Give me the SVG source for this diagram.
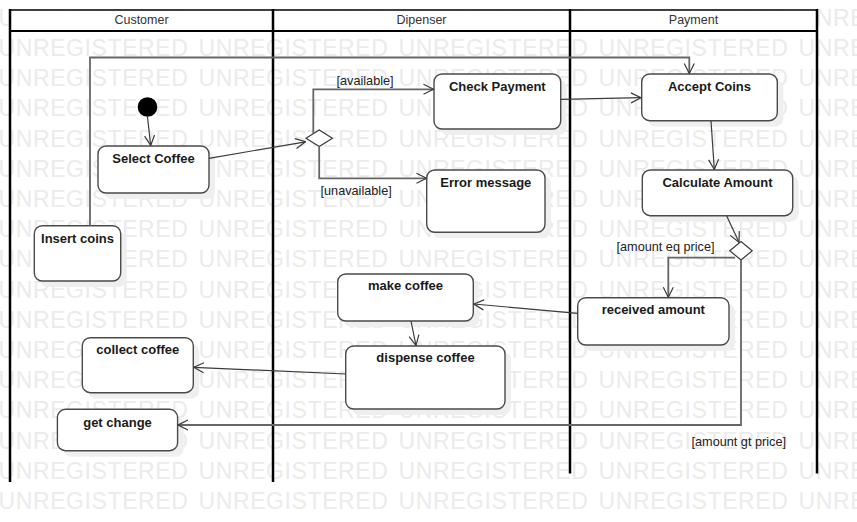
<svg xmlns="http://www.w3.org/2000/svg" width="857" height="522" viewBox="0 0 857 522">
<style>
.wm{font-family:"Liberation Sans",Arial,sans-serif;font-size:23px;letter-spacing:0.6px;fill:#ebebeb}
.hdr{font-family:"Liberation Sans",Arial,sans-serif;font-size:12.5px;fill:#333;text-anchor:middle}
.node rect.box{fill:#fff;stroke:#4a4a4a;stroke-width:1.4}
.node rect.sh{fill:#efefef;stroke:none}
.node text{font-family:"Liberation Sans",Arial,sans-serif;font-size:13px;font-weight:bold;fill:#1a1a1a;text-anchor:middle}
.lbl{font-family:"Liberation Sans",Arial,sans-serif;font-size:12.7px;fill:#222}
.c{fill:none;stroke:#3a3a3a;stroke-width:1.2;marker-end:url(#arr)}
.c2{fill:none;stroke:#666;stroke-width:1.8;marker-end:url(#arr)}
.lane{stroke:#000;stroke-width:2.5}
</style>
<defs>
<marker id="arr" markerUnits="userSpaceOnUse" markerWidth="12" markerHeight="12" viewBox="0 0 12 12" refX="11" refY="6" orient="auto">
<path d="M1,1 L11,6 L1,11" fill="none" stroke="#3a3a3a" stroke-width="1.2"/>
</marker>
</defs>
<rect width="857" height="522" fill="#fff"/>
<g id="watermark">
<text class="wm" y="25.8"><tspan x="-1.5">UNREGISTERED</tspan><tspan x="198.5">UNREGISTERED</tspan><tspan x="398.5">UNREGISTERED</tspan><tspan x="598.5">UNREGISTERED</tspan><tspan x="798.5">UNRE</tspan></text>
<text class="wm" y="56"><tspan x="-1.5">UNREGISTERED</tspan><tspan x="198.5">UNREGISTERED</tspan><tspan x="398.5">UNREGISTERED</tspan><tspan x="598.5">UNREGISTERED</tspan><tspan x="798.5">UNRE</tspan></text>
<text class="wm" y="86.2"><tspan x="-1.5">UNREGISTERED</tspan><tspan x="198.5">UNREGISTERED</tspan><tspan x="398.5">UNREGISTERED</tspan><tspan x="598.5">UNREGISTERED</tspan><tspan x="798.5">UNRE</tspan></text>
<text class="wm" y="116.4"><tspan x="-1.5">UNREGISTERED</tspan><tspan x="198.5">UNREGISTERED</tspan><tspan x="398.5">UNREGISTERED</tspan><tspan x="598.5">UNREGISTERED</tspan><tspan x="798.5">UNRE</tspan></text>
<text class="wm" y="146.6"><tspan x="-1.5">UNREGISTERED</tspan><tspan x="198.5">UNREGISTERED</tspan><tspan x="398.5">UNREGISTERED</tspan><tspan x="598.5">UNREGISTERED</tspan><tspan x="798.5">UNRE</tspan></text>
<text class="wm" y="176.8"><tspan x="-1.5">UNREGISTERED</tspan><tspan x="198.5">UNREGISTERED</tspan><tspan x="398.5">UNREGISTERED</tspan><tspan x="598.5">UNREGISTERED</tspan><tspan x="798.5">UNRE</tspan></text>
<text class="wm" y="207"><tspan x="-1.5">UNREGISTERED</tspan><tspan x="198.5">UNREGISTERED</tspan><tspan x="398.5">UNREGISTERED</tspan><tspan x="598.5">UNREGISTERED</tspan><tspan x="798.5">UNRE</tspan></text>
<text class="wm" y="237.2"><tspan x="-1.5">UNREGISTERED</tspan><tspan x="198.5">UNREGISTERED</tspan><tspan x="398.5">UNREGISTERED</tspan><tspan x="598.5">UNREGISTERED</tspan><tspan x="798.5">UNRE</tspan></text>
<text class="wm" y="267.4"><tspan x="-1.5">UNREGISTERED</tspan><tspan x="198.5">UNREGISTERED</tspan><tspan x="398.5">UNREGISTERED</tspan><tspan x="598.5">UNREGISTERED</tspan><tspan x="798.5">UNRE</tspan></text>
<text class="wm" y="297.6"><tspan x="-1.5">UNREGISTERED</tspan><tspan x="198.5">UNREGISTERED</tspan><tspan x="398.5">UNREGISTERED</tspan><tspan x="598.5">UNREGISTERED</tspan><tspan x="798.5">UNRE</tspan></text>
<text class="wm" y="327.8"><tspan x="-1.5">UNREGISTERED</tspan><tspan x="198.5">UNREGISTERED</tspan><tspan x="398.5">UNREGISTERED</tspan><tspan x="598.5">UNREGISTERED</tspan><tspan x="798.5">UNRE</tspan></text>
<text class="wm" y="358"><tspan x="-1.5">UNREGISTERED</tspan><tspan x="198.5">UNREGISTERED</tspan><tspan x="398.5">UNREGISTERED</tspan><tspan x="598.5">UNREGISTERED</tspan><tspan x="798.5">UNRE</tspan></text>
<text class="wm" y="388.2"><tspan x="-1.5">UNREGISTERED</tspan><tspan x="198.5">UNREGISTERED</tspan><tspan x="398.5">UNREGISTERED</tspan><tspan x="598.5">UNREGISTERED</tspan><tspan x="798.5">UNRE</tspan></text>
<text class="wm" y="418.4"><tspan x="-1.5">UNREGISTERED</tspan><tspan x="198.5">UNREGISTERED</tspan><tspan x="398.5">UNREGISTERED</tspan><tspan x="598.5">UNREGISTERED</tspan><tspan x="798.5">UNRE</tspan></text>
<text class="wm" y="448.6"><tspan x="-1.5">UNREGISTERED</tspan><tspan x="198.5">UNREGISTERED</tspan><tspan x="398.5">UNREGISTERED</tspan><tspan x="598.5">UNREGISTERED</tspan><tspan x="798.5">UNRE</tspan></text>
<text class="wm" y="478.8"><tspan x="-1.5">UNREGISTERED</tspan><tspan x="198.5">UNREGISTERED</tspan><tspan x="398.5">UNREGISTERED</tspan><tspan x="598.5">UNREGISTERED</tspan><tspan x="798.5">UNRE</tspan></text>
<text class="wm" y="509"><tspan x="-1.5">UNREGISTERED</tspan><tspan x="198.5">UNREGISTERED</tspan><tspan x="398.5">UNREGISTERED</tspan><tspan x="598.5">UNREGISTERED</tspan><tspan x="798.5">UNRE</tspan></text>
</g>
<g id="lanes">
<rect x="10" y="10" width="807" height="21" fill="#fff" stroke="none"/>
<line x1="10" y1="10" x2="817" y2="10" stroke="#000" stroke-width="1.5"/>
<line x1="10" y1="31" x2="817" y2="31" stroke="#000" stroke-width="1.8"/>
<line class="lane" x1="10" y1="9" x2="10" y2="482"/>
<line class="lane" x1="273" y1="9" x2="273" y2="482"/>
<line class="lane" x1="570" y1="9" x2="570" y2="473.5"/>
<line class="lane" x1="817" y1="9" x2="817" y2="473.5"/>
<text class="hdr" x="141.5" y="24">Customer</text>
<text class="hdr" x="421.5" y="24">Dipenser</text>
<text class="hdr" x="693.5" y="24">Payment</text>
</g>
<g id="initial"><circle cx="147.5" cy="107" r="9.8" fill="#000"/></g>
<g id="decision1"><polygon points="306,138.3 319.2,130 332.4,138.3 319.2,146.6" fill="#fff" stroke="#3a3a3a" stroke-width="1.2"/></g>
<g id="decision2"><polygon points="729.8,250.8 741,241.6 752.2,250.8 741,260" fill="#fff" stroke="#3a3a3a" stroke-width="1.2"/></g>
<g id="select-coffee" class="node"><rect class="sh" x="104" y="152" width="111" height="47" rx="8"/><rect class="box" x="98" y="146" width="111" height="47" rx="8"/><text x="153.5" y="162.5">Select Coffee</text></g>
<g id="insert-coins" class="node"><rect class="sh" x="40.3" y="231.7" width="86.4" height="55.3" rx="8"/><rect class="box" x="34.3" y="225.7" width="86.4" height="55.3" rx="8"/><text x="77.5" y="242.7">Insert coins</text></g>
<g id="check-payment" class="node"><rect class="sh" x="440" y="80" width="126.7" height="55" rx="8"/><rect class="box" x="434" y="74" width="126.7" height="55" rx="8"/><text x="497.3" y="90.7">Check Payment</text></g>
<g id="error-message" class="node"><rect class="sh" x="432.7" y="176" width="118.3" height="62.3" rx="8"/><rect class="box" x="426.7" y="170" width="118.3" height="62.3" rx="8"/><text x="485.8" y="186.7">Error message</text></g>
<g id="accept-coins" class="node"><rect class="sh" x="647.7" y="80" width="135.6" height="46.7" rx="8"/><rect class="box" x="641.7" y="74" width="135.6" height="46.7" rx="8"/><text x="709.5" y="90.7">Accept Coins</text></g>
<g id="calculate-amount" class="node"><rect class="sh" x="648.3" y="176" width="150.4" height="45.7" rx="8"/><rect class="box" x="642.3" y="170" width="150.4" height="45.7" rx="8"/><text x="717.5" y="186.7">Calculate Amount</text></g>
<g id="received-amount" class="node"><rect class="sh" x="583.7" y="303.7" width="151.3" height="47.3" rx="8"/><rect class="box" x="577.7" y="297.7" width="151.3" height="47.3" rx="8"/><text x="653.3" y="314.3">received amount</text></g>
<g id="make-coffee" class="node"><rect class="sh" x="343.7" y="280" width="135.6" height="47" rx="8"/><rect class="box" x="337.7" y="274" width="135.6" height="47" rx="8"/><text x="405.5" y="290">make coffee</text></g>
<g id="dispense-coffee" class="node"><rect class="sh" x="351.7" y="352" width="159.3" height="63" rx="8"/><rect class="box" x="345.7" y="346" width="159.3" height="63" rx="8"/><text x="425.5" y="362.3">dispense coffee</text></g>
<g id="collect-coffee" class="node"><rect class="sh" x="88.3" y="343.7" width="111" height="55" rx="8"/><rect class="box" x="82.3" y="337.7" width="111" height="55" rx="8"/><text x="137.8" y="354.3">collect coffee</text></g>
<g id="get-change" class="node"><rect class="sh" x="63.4" y="415.3" width="120.2" height="41.4" rx="8"/><rect class="box" x="57.4" y="409.3" width="120.2" height="41.4" rx="8"/><text x="117.5" y="427.3">get change</text></g>
<g id="connectors">
<path class="c" d="M147.5 117 L150.7 145.5"/>
<path class="c" d="M209 158.3 L305.5 141.8"/>
<path class="c2" d="M313.3 133.7 V89.3 H433.5"/>
<path class="c2" d="M319.2 146.6 V178.3 H426.5"/>
<path class="c" d="M560.7 99.3 L641 97.7"/>
<path class="c2" d="M90 225.7 V57.5 H689.3 V73.5"/>
<path class="c" d="M711 120.7 L714.3 169.5"/>
<path class="c" d="M726.7 216 L739 242.3"/>
<path class="c2" d="M735 257.7 H668.3 V297.2"/>
<path class="c" d="M577.7 313.3 L473.8 304"/>
<path class="c" d="M411 321 L416 345.5"/>
<path class="c" d="M345.7 374 L193.8 367.3"/>
<path class="c2" d="M741 260 V425 H178"/>
<text class="lbl" x="336.5" y="84.5">[available]</text>
<text class="lbl" x="320.5" y="194.5">[unavailable]</text>
<text class="lbl" x="616.5" y="250.7">[amount eq price]</text>
<text class="lbl" x="691.5" y="445.7">[amount gt price]</text>
</g>
</svg>
